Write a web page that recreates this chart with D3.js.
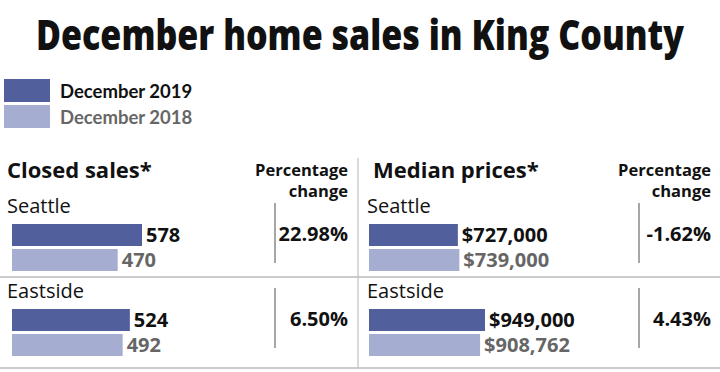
<!DOCTYPE html>
<html>
<head>
<meta charset="utf-8">
<script src="https://cdn.jsdelivr.net/npm/d3@7"></script>
<style>
  body { margin: 0; background: #fff; }
  svg { display: block; }
  .title { font-family: 'Open Sans', sans-serif; font-weight: 800; font-size: 42px; fill: #111; }
  .legend { font-family: Lato, sans-serif; font-weight: bold; font-size: 18.5px; }
  .header { font-family: 'Open Sans', sans-serif; font-weight: bold; font-size: 22px; fill: #111; }
  .pct-header { font-family: 'Open Sans', sans-serif; font-weight: bold; font-size: 16.5px; fill: #111; }
  .region { font-family: 'Open Sans', sans-serif; font-size: 20px; fill: #111; }
  .value { font-family: 'Open Sans', sans-serif; font-weight: bold; font-size: 20px; }
  .pct { font-family: 'Open Sans', sans-serif; font-weight: bold; font-size: 20px; fill: #111; }
</style>
</head>
<body>
<svg id="chart" width="720" height="372"></svg>
<script>
const regions = ['Seattle', 'Eastside'];
const years = ['December 2019', 'December 2018'];

const sales2019 = [578, 524];
const sales2018 = [470, 492];
const salesChange = [22.98, 6.50];

const prices2019 = [727000, 949000];
const prices2018 = [739000, 908762];
const pricesChange = [-1.62, 4.43];

const colors = ['#515f9c', '#a5aed0'];
const textColors = ['#111', '#666'];

const width = 720;
const height = 372;

// Plain hyphen for negatives, as in the original.
const locale = d3.formatLocale({
  decimal: '.',
  thousands: ',',
  grouping: [3],
  currency: ['$', ''],
  minus: '-'
});

const svg = d3.select('#chart');

// Title. No condensed face is installed, so scale it down horizontally.
const titleWidth = 648;
const title = svg.append('text')
  .attr('class', 'title')
  .attr('x', 0)
  .attr('y', 0)
  .text('December home sales in King County');

const natural = title.node().getComputedTextLength();
title.attr('transform', `translate(${(width - titleWidth) / 2}, 50) scale(${titleWidth / natural}, 1)`);

// Legend.
const legend = svg.append('g')
  .selectAll('g')
    .data(years)
    .enter()
      .append('g')
      .attr('transform', (d, i) => `translate(4, ${79 + i * 26})`);

legend.append('rect')
  .attr('width', 46)
  .attr('height', 23)
  .attr('fill', (d, i) => colors[i]);

legend.append('text')
  .attr('class', 'legend')
  .attr('x', 56)
  .attr('y', 19)
  .attr('fill', (d, i) => textColors[i])
  .text(d => d);

// TODO: offsets differ a little between the two panels in the original.
const panels = [
  {
    title: 'Closed sales*',
    x0: 0,
    current: sales2019,
    previous: sales2018,
    change: salesChange,
    format: locale.format('d'),
    maxWidth: 130,
    offsets: { header: 7, label: 7, bar: 12, rule: 275, pct: 348 }
  },
  {
    title: 'Median prices*',
    x0: 360,
    current: prices2019,
    previous: prices2018,
    change: pricesChange,
    format: locale.format('$,'),
    maxWidth: 116,
    offsets: { header: 13, label: 7, bar: 9, rule: 279, pct: 351 }
  }
];

const rowY = d3.scalePoint()
  .domain(regions)
  .range([190, 275]);

const pctFormat = d => locale.format('.2f')(d) + '%';
const bottom = 368;
const barHeight = 22;

// Dividers.
svg.append('line')
  .attr('x1', 358).attr('x2', 358)
  .attr('y1', 158).attr('y2', bottom)
  .attr('stroke', '#ccc')
  .attr('stroke-width', 1.5);

svg.append('g')
  .selectAll('line')
    .data(regions)
    .enter()
      .append('line')
      .attr('x1', 0)
      .attr('x2', width)
      .attr('y1', (d, i) => i < regions.length - 1 ? rowY(d) + 87 : bottom)
      .attr('y2', (d, i) => i < regions.length - 1 ? rowY(d) + 87 : bottom)
      .attr('stroke', '#bbb')
      .attr('stroke-width', 1.5);

panels.forEach(panel => {
  const { x0, offsets } = panel;
  const x = d3.scaleLinear()
    .domain([0, d3.max(panel.current.concat(panel.previous))])
    .range([0, panel.maxWidth]);

  const group = svg.append('g')
    .attr('transform', `translate(${x0}, 0)`);

  group.append('text')
    .attr('class', 'header')
    .attr('x', offsets.header)
    .attr('y', 178)
    .text(panel.title);

  group.selectAll('text.pct-header')
    .data(['Percentage', 'change'])
    .enter()
      .append('text')
      .attr('class', 'pct-header')
      .attr('text-anchor', 'end')
      .attr('x', offsets.pct)
      .attr('y', (d, i) => 176 + i * 21)
      .text(d => d);

  const rows = group.selectAll('g.row')
    .data(regions.map((name, i) => ({
      name,
      values: [panel.current[i], panel.previous[i]],
      change: panel.change[i]
    })))
    .enter()
      .append('g')
      .attr('class', 'row')
      .attr('transform', d => `translate(0, ${rowY(d.name)})`);

  rows.append('text')
    .attr('class', 'region')
    .attr('x', offsets.label)
    .attr('y', 23)
    .text(d => d.name);

  const bars = rows.selectAll('g.bar')
    .data(d => d.values)
    .enter()
      .append('g')
      .attr('class', 'bar')
      .attr('transform', (d, i) => `translate(${offsets.bar}, ${34 + i * 25})`);

  bars.append('rect')
    .attr('width', d => x(d))
    .attr('height', barHeight)
    .attr('fill', (d, i) => colors[i]);

  bars.append('text')
    .attr('class', 'value')
    .attr('x', d => x(d) + 4)
    .attr('y', 18)
    .attr('fill', (d, i) => textColors[i])
    .text(d => panel.format(d));

  rows.append('line')
    .attr('x1', offsets.rule).attr('x2', offsets.rule)
    .attr('y1', 13).attr('y2', 73)
    .attr('stroke', '#888')
    .attr('stroke-width', 1.5);

  rows.append('text')
    .attr('class', 'pct')
    .attr('x', offsets.pct)
    .attr('y', 51)
    .attr('text-anchor', 'end')
    .text(d => pctFormat(d.change));
});
</script>
</body>
</html>
